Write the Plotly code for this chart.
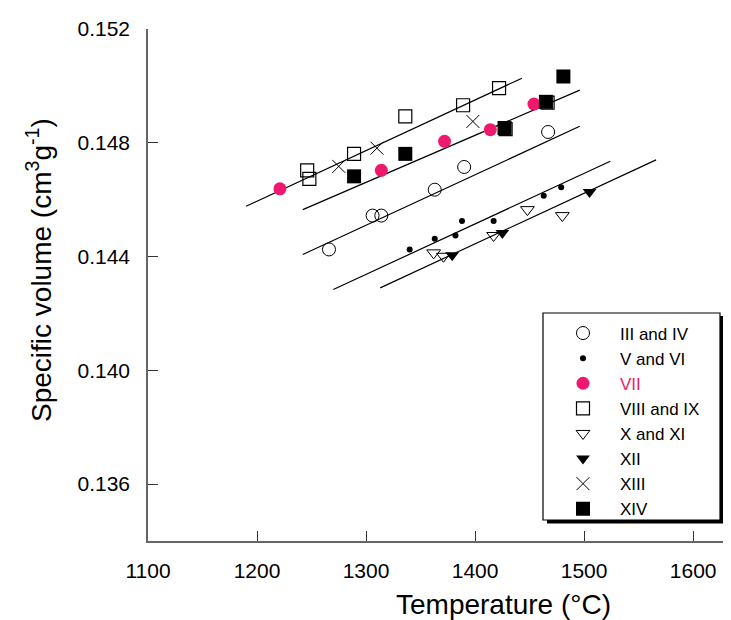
import plotly.graph_objects as go

# ---------------- data ----------------
t_3_4 = [1266, 1306, 1314, 1363, 1390, 1467]
v_3_4 = [0.14425, 0.14544, 0.14544, 0.14635, 0.14715, 0.14838]

t_5_6 = [1340, 1363, 1382, 1388, 1417, 1463, 1479]
v_5_6 = [0.14425, 0.14463, 0.14474, 0.14525, 0.14525, 0.14614, 0.14644]

t_7 = [1221, 1314, 1372, 1414, 1454]
v_7 = [0.14638, 0.14703, 0.14805, 0.14846, 0.14936]

t_8_9 = [1246, 1248, 1289, 1336, 1389, 1422, 1428, 1466.5]
v_8_9 = [0.14703, 0.14673, 0.14761, 0.14893, 0.14932, 0.14992, 0.14848, 0.14941]

t_10_11 = [1362, 1371, 1417, 1448, 1480]
v_10_11 = [0.14413, 0.14401, 0.14474, 0.14565, 0.14544]

t_12 = [1379, 1425, 1505]
v_12 = [0.14405, 0.14483, 0.14627]

t_13 = [1275, 1310, 1398]
v_13 = [0.14717, 0.14781, 0.14875]

t_14 = [1289, 1336, 1427, 1465, 1481]
v_14 = [0.14682, 0.14761, 0.14852, 0.14944, 0.15033]

# fitted lines (start/end)
line_t_start = [1190, 1242, 1242, 1270, 1313]
line_t_end = [1443, 1496, 1496, 1524, 1566]
line_v_start = [0.14577, 0.14565, 0.14407, 0.14284, 0.14290]
line_v_end = [0.15027, 0.14985, 0.14858, 0.14735, 0.14740]

x_ticks = [1100, 1200, 1300, 1400, 1500, 1600]
y_ticks = [0.136, 0.140, 0.144, 0.148, 0.152]
y_tick_text = ["0.136", "0.140", "0.144", "0.148", "0.152"]

PINK = "#F0186E"
FONT = "Liberation Sans, Arial, sans-serif"

W, H = 731, 620
ML, MR, MT, MB = 140, 0, 21, 87
PW, PH = W - ML - MR, H - MT - MB


def px_x(p):
    return (p - ML) / PW


def px_y(p):
    return (H - MB - p) / PH


fig = go.Figure()

# fit lines
for ts, te, vs, ve in zip(line_t_start, line_t_end, line_v_start, line_v_end):
    fig.add_trace(go.Scatter(x=[ts, te], y=[vs, ve], mode="lines",
                             line=dict(color="black", width=1.2),
                             showlegend=False, hoverinfo="skip"))

series = [
    ("III and IV", t_3_4, v_3_4, dict(symbol="circle-open", size=13, color="black", line=dict(width=1, color="black"))),
    ("V and VI", t_5_6, v_5_6, dict(symbol="circle", size=6, color="black")),
    ("<span style='color:%s'>VII</span>" % PINK, t_7, v_7, dict(symbol="circle", size=13, color=PINK)),
    ("VIII and IX", t_8_9, v_8_9, dict(symbol="square-open", size=13, color="black", line=dict(width=1.2, color="#333"))),
    ("X and XI", t_10_11, v_10_11, dict(symbol="triangle-down-open", size=12, color="black", line=dict(width=1, color="black"))),
    ("XII", t_12, v_12, dict(symbol="triangle-down", size=12, color="black")),
    ("XIII", t_13, v_13, dict(symbol="x-thin-open", size=13, color="black", line=dict(width=1, color="black"))),
    ("XIV", t_14, v_14, dict(symbol="square", size=14, color="black")),
]
for name, xs, ys, mk in series:
    fig.add_trace(go.Scatter(x=xs, y=ys, mode="markers", name=name, marker=mk))

# legend box with shadow
shapes = [
    dict(type="rect", xref="paper", yref="paper",
         x0=px_x(539), x1=px_x(716), y0=px_y(515.5), y1=px_y(308),
         fillcolor="black", line=dict(width=0), layer="above"),
    dict(type="rect", xref="paper", yref="paper",
         x0=px_x(535), x1=px_x(712), y0=px_y(512), y1=px_y(305),
         fillcolor="white", line=dict(width=1.2, color="black"), layer="above"),
]

annotations = [
    dict(text="Temperature (°C)", xref="paper", yref="paper",
         x=px_x(495), y=px_y(596), xanchor="center", yanchor="middle",
         showarrow=False, font=dict(size=28, color="black", family=FONT)),
    dict(text="Specific volume (cm<sup>3</sup>g<sup>-1</sup>)", xref="paper", yref="paper",
         x=px_x(31), y=px_y(262), xanchor="center", yanchor="middle", textangle=-90,
         showarrow=False, font=dict(size=28, color="black", family=FONT)),
]

fig.update_layout(
    width=W, height=H,
    margin=dict(l=ML, r=MR, t=MT, b=MB),
    plot_bgcolor="white", paper_bgcolor="white",
    font=dict(family=FONT, color="black"),
    shapes=shapes,
    annotations=annotations,
    legend=dict(x=px_x(538), y=px_y(307.5), xanchor="left", yanchor="top",
                bgcolor="rgba(0,0,0,0)", borderwidth=0,
                itemwidth=64, font=dict(size=17, color="black", family=FONT)),
    xaxis=dict(range=[1100, 1100 + PW / 1.09025], tickvals=x_ticks,
               ticks="inside", ticklen=10, tickcolor="#333", tickwidth=1,
               showline=True, linecolor="#666", linewidth=1.5,
               showgrid=False, zeroline=False, ticklabelstandoff=10,
               tickfont=dict(size=21, family=FONT, color="black")),
    yaxis=dict(range=[0.134, 0.152], tickvals=y_ticks, ticktext=y_tick_text,
               ticks="inside", ticklen=10, tickcolor="#333", tickwidth=1,
               showline=True, linecolor="#666", linewidth=1.5,
               showgrid=False, zeroline=False, ticklabelstandoff=12,
               tickfont=dict(size=21, family=FONT, color="black")),
)

fig.write_html("out.html")
